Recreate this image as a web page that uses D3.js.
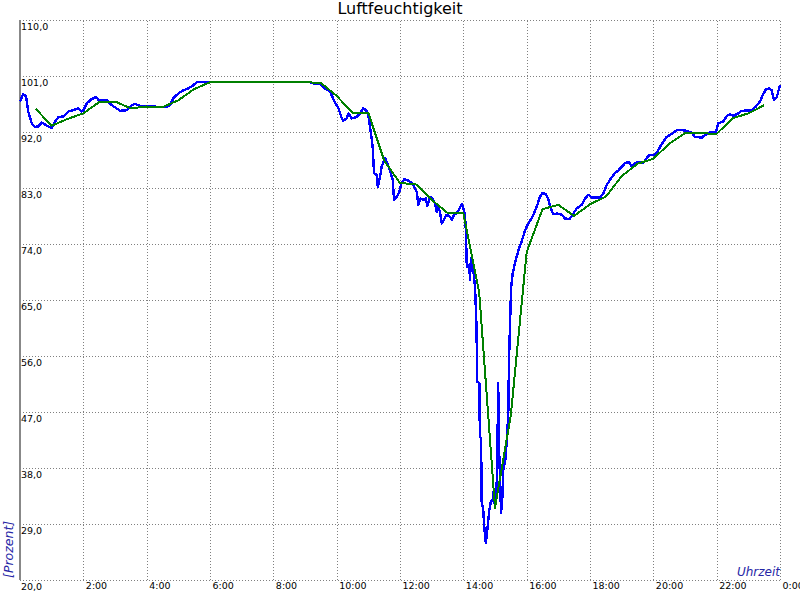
<!DOCTYPE html>
<html>
<head>
<meta charset="utf-8">
<script src="https://cdn.jsdelivr.net/npm/d3@7"></script>
<style>
  html, body { margin: 0; padding: 0; background: #fff; }
  svg { display: block; font-family: "DejaVu Sans", sans-serif; }
</style>
</head>
<body>
<svg id="chart" width="800" height="600"></svg>
<script>
// ---- data ----
const title = "Luftfeuchtigkeit";
const yAxisTitle = "[Prozent]";
const xAxisTitle = "Uhrzeit";

// x ticks (hours of day) and their labels
const xTickHours = [2, 4, 6, 8, 10, 12, 14, 16, 18, 20, 22, 24];
const xTickLabels = ["2:00", "4:00", "6:00", "8:00", "10:00", "12:00", "14:00", "16:00", "18:00", "20:00", "22:00", "0:00"];
// y ticks
const yTickValues = [20, 29, 38, 47, 56, 65, 74, 83, 92, 101, 110];
const yTickLabels = ["20,0", "29,0", "38,0", "47,0", "56,0", "65,0", "74,0", "83,0", "92,0", "101,0", "110,0"];

// raw measurement series (blue): time in hours, value in %
const rawHours = [
  0.00, 0.10, 0.19, 0.26, 0.37, 0.47, 0.58, 0.69, 0.79, 0.89, 1.00, 1.11, 1.21, 1.37, 1.53, 1.68, 1.84, 1.95, 2.00, 2.11,
  2.26, 2.40, 2.49, 2.74, 2.90, 3.05, 3.16, 3.37, 3.53, 3.63, 3.79, 4.00, 4.21, 4.42, 4.63, 4.74, 4.84, 5.00, 5.16, 5.31,
  5.47, 5.58, 6.00, 9.16, 9.32, 9.47, 9.63, 9.79, 9.95, 10.05, 10.16, 10.21, 10.32, 10.37, 10.47, 10.63, 10.74, 10.84, 10.93, 11.00,
  11.05, 11.11, 11.14, 11.18, 11.26, 11.30, 11.37, 11.42, 11.53, 11.60, 11.68, 11.77, 11.81, 11.90, 11.98, 12.05, 12.13, 12.23, 12.37, 12.47,
  12.53, 12.58, 12.65, 12.74, 12.82, 12.86, 12.95, 13.03, 13.11, 13.16, 13.21, 13.26, 13.32, 13.39, 13.47, 13.58, 13.63, 13.71, 13.79, 13.87,
  13.95, 14.00, 14.05, 14.08, 14.11, 14.19, 14.21, 14.24, 14.30, 14.37, 14.42, 14.43, 14.51, 14.52, 14.56, 14.58, 14.63, 14.66, 14.71, 14.77,
  14.82, 14.87, 14.93, 14.95, 14.98, 15.03, 15.07, 15.10, 15.14, 15.16, 15.19, 15.23, 15.26, 15.32, 15.37, 15.42, 15.44, 15.47, 15.51, 15.56,
  15.63, 15.74, 15.84, 15.95, 16.02, 16.13, 16.23, 16.34, 16.42, 16.50, 16.61, 16.68, 16.74, 16.84, 16.95, 17.11, 17.21, 17.35, 17.45, 17.58,
  17.74, 17.84, 17.95, 18.05, 18.32, 18.42, 18.53, 18.63, 18.79, 18.89, 19.00, 19.11, 19.23, 19.32, 19.42, 19.58, 19.68, 19.79, 19.87, 20.00,
  20.11, 20.21, 20.31, 20.42, 20.58, 20.74, 20.90, 21.05, 21.21, 21.32, 21.53, 21.63, 21.79, 21.98, 22.05, 22.21, 22.32, 22.42, 22.53, 22.68,
  22.79, 23.11, 23.24, 23.37, 23.45, 23.56, 23.66, 23.74, 23.81, 23.90, 23.97, 24.00
];
const rawValues = [
  96.9, 98.1, 97.7, 95.3, 93.4, 92.8, 92.9, 93.5, 93.2, 92.9, 92.6, 93.7, 94.4, 94.5, 95.3, 95.5, 95.8, 95.3, 95.5, 96.6,
  97.3, 97.6, 97.1, 97.1, 96.3, 95.8, 95.4, 95.5, 96.3, 96.5, 96.2, 96.1, 96.1, 96.0, 96.0, 96.3, 97.4, 98.2, 98.7, 99.0,
  99.5, 100.0, 100.0, 100.0, 99.7, 99.8, 99.0, 98.5, 96.7, 95.9, 94.2, 93.8, 94.2, 95.0, 94.2, 94.4, 95.0, 95.8, 95.5, 94.7,
  92.9, 90.7, 89.4, 85.4, 85.1, 83.2, 84.8, 86.4, 87.8, 87.0, 85.9, 84.3, 81.1, 81.6, 82.4, 83.8, 84.4, 84.3, 83.8, 83.0,
  82.4, 80.3, 81.3, 81.1, 81.3, 80.1, 81.6, 81.3, 80.5, 79.2, 80.0, 79.2, 77.3, 77.9, 78.7, 78.4, 77.9, 78.7, 79.0, 79.6,
  80.4, 79.7, 78.8, 76.2, 70.3, 70.6, 68.2, 71.7, 70.6, 67.1, 60.2, 51.9, 51.6, 43.0, 42.8, 32.6, 31.2, 28.6, 25.9, 28.6,
  31.2, 32.6, 32.9, 34.2, 32.3, 32.9, 37.7, 51.6, 38.7, 36.6, 30.7, 32.9, 37.7, 39.0, 42.2, 46.8, 54.8, 60.2, 67.1, 69.3,
  70.9, 73.0, 74.4, 76.2, 77.0, 77.9, 78.9, 80.3, 81.6, 82.2, 82.0, 81.3, 80.0, 78.8, 78.9, 78.7, 78.1, 78.0, 78.7, 79.7,
  80.3, 81.3, 81.9, 81.5, 81.5, 82.1, 83.5, 84.3, 85.4, 85.8, 86.4, 87.0, 87.2, 86.4, 87.0, 87.2, 87.0, 87.8, 88.3, 88.3,
  88.6, 89.6, 90.4, 91.2, 91.7, 92.3, 92.3, 92.2, 91.9, 91.2, 91.1, 91.5, 92.0, 92.0, 93.4, 93.7, 94.6, 94.8, 94.6, 95.0,
  95.4, 95.5, 96.1, 96.9, 97.9, 98.9, 99.0, 98.7, 97.1, 97.6, 99.0, 99.5
];

// smoothed series (green): half-hour means
const avgHours = [
  0.5, 1.0, 1.5, 2.0, 2.5, 3.0, 3.5, 4.0, 4.5, 5.0, 5.5, 6.0, 6.5, 7.0, 7.5, 8.0, 8.5, 9.0, 9.5, 10.0,
  10.5, 11.0, 11.5, 12.0, 12.5, 13.0, 13.5, 14.0, 14.5, 15.0, 15.5, 16.0, 16.5, 17.0, 17.5, 18.0, 18.5, 19.0, 19.5, 20.0,
  20.5, 21.0, 21.5, 22.0, 22.5, 23.0, 23.5
];
const avgValues = [
  95.7, 93.0, 94.1, 95.0, 96.8, 96.9, 95.8, 96.1, 96.0, 97.1, 98.9, 100.0, 100.0, 100.0, 100.0, 100.0, 100.0, 100.0, 99.9, 97.8,
  95.1, 95.1, 87.4, 83.8, 83.6, 81.1, 79.0, 79.0, 66.3, 31.6, 46.5, 72.7, 79.6, 80.3, 78.5, 80.4, 81.6, 84.9, 86.9, 87.7,
  90.1, 91.8, 91.8, 91.7, 94.2, 95.0, 96.3
];

// ---- drawing ----
const svg = d3.select("#chart");
const plotLeft = 20, plotRight = 780, plotTop = 20, plotBottom = 580;

const x = d3.scaleLinear().domain([0, 24]).range([plotLeft, plotRight]);
const y = d3.scaleLinear().domain([20, 110]).range([plotBottom, plotTop]);

const gridColor = "#808080";

// horizontal grid + y labels via axis
const yAxis = d3.axisRight(y)
  .tickValues(yTickValues)
  .tickSize(plotRight - plotLeft)
  .tickFormat((d, i) => yTickLabels[i]);
const gy = svg.append("g").attr("transform", `translate(${plotLeft},0)`).call(yAxis);
gy.select(".domain").remove();
gy.selectAll(".tick line")
  .attr("stroke", gridColor)
  .attr("stroke-width", 1)
  .attr("stroke-dasharray", "1,2")
  .attr("shape-rendering", "crispEdges");
gy.selectAll(".tick text")
  .attr("x", 1)
  .attr("dy", null)
  .attr("y", 9.5)
  .attr("fill", "#000")
  .attr("font-size", "9.5px")
  .attr("font-family", "DejaVu Sans, sans-serif")
  .attr("text-anchor", "start");

// vertical grid + x labels via axis
const xAxis = d3.axisBottom(x)
  .tickValues(xTickHours)
  .tickSize(-(plotBottom - plotTop))
  .tickFormat((d, i) => xTickLabels[i]);
const gx = svg.append("g").attr("transform", `translate(0,${plotBottom})`).call(xAxis);
gx.select(".domain").remove();
gx.selectAll(".tick line")
  .attr("stroke", gridColor)
  .attr("stroke-width", 1)
  .attr("stroke-dasharray", "1,2")
  .attr("shape-rendering", "crispEdges");
gx.selectAll(".tick text")
  .attr("x", 2)
  .attr("dy", null)
  .attr("y", 9)
  .attr("fill", "#000")
  .attr("font-size", "9.5px")
  .attr("font-family", "DejaVu Sans, sans-serif")
  .attr("text-anchor", "start");

// left solid axis line
svg.append("line")
  .attr("x1", plotLeft).attr("x2", plotLeft)
  .attr("y1", plotTop).attr("y2", plotBottom)
  .attr("stroke", "#888")
  .attr("stroke-width", 2);

// lines
const rawData = rawHours.map((h, i) => ({ h, v: rawValues[i] }));
const avgData = avgHours.map((h, i) => ({ h, v: avgValues[i] }));
const line = d3.line().x(d => x(d.h)).y(d => y(d.v));

svg.append("path")
  .datum(rawData)
  .attr("d", line)
  .attr("fill", "none")
  .attr("stroke", "#0000ff")
  .attr("stroke-width", 2.4)
  .attr("stroke-linejoin", "round")
  .attr("shape-rendering", "crispEdges");

svg.append("path")
  .datum(avgData)
  .attr("d", line)
  .attr("fill", "none")
  .attr("stroke", "#008000")
  .attr("stroke-width", 2)
  .attr("stroke-linejoin", "round")
  .attr("shape-rendering", "crispEdges");

// titles
svg.append("text")
  .attr("x", 400).attr("y", 14)
  .attr("text-anchor", "middle")
  .attr("font-size", "16px")
  .attr("fill", "#000")
  .text(title);

svg.append("text")
  .attr("transform", `translate(13,${plotBottom - 2}) rotate(-90)`)
  .attr("text-anchor", "start")
  .attr("font-size", "12.5px")
  .attr("font-style", "italic")
  .attr("fill", "#2626a6")
  .text(yAxisTitle);

svg.append("text")
  .attr("x", plotRight).attr("y", plotBottom - 4)
  .attr("text-anchor", "end")
  .attr("font-size", "12px")
  .attr("font-style", "italic")
  .attr("fill", "#2626a6")
  .text(xAxisTitle);
</script>
</body>
</html>
